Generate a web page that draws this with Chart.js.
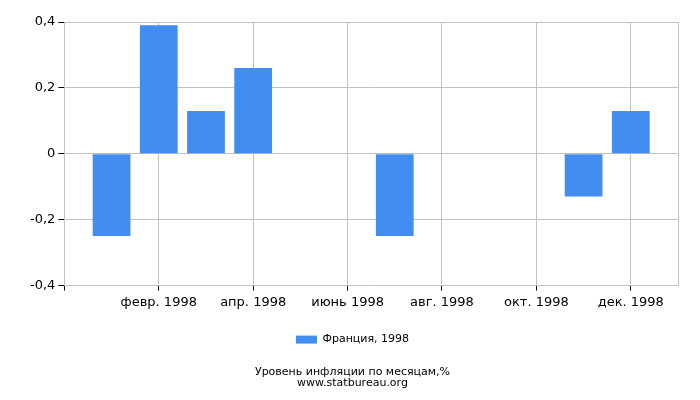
<!DOCTYPE html>
<html><head><meta charset="utf-8">
<script src="https://cdn.jsdelivr.net/npm/chart.js@4"></script>
<style>html,body{margin:0;padding:0;background:#fff}#wrap{width:700px;height:400px}</style>
</head><body><div id="wrap"><canvas id="c"></canvas></div>
<script>
const months = ['янв. 1998','февр. 1998','март 1998','апр. 1998','май 1998','июнь 1998','июль 1998','авг. 1998','сент. 1998','окт. 1998','нояб. 1998','дек. 1998'];
const values = [-0.25, 0.39, 0.13, 0.26, 0, 0, -0.25, 0, 0, 0, -0.13, 0.13];
const seriesName = 'Франция, 1998';
const yTicks = [-0.4, -0.2, 0, 0.2, 0.4];
const titleLines = ['Уровень инфляции по месяцам,%', 'www.statbureau.org'];

const labels = [''].concat(months, ['']);
const data = [null].concat(values, [null]);
const shown = (i) => i >= 2 && i <= 12 && i % 2 === 0;

new Chart(document.getElementById('c'), {
  type: 'bar',
  data: { labels, datasets: [{ label: seriesName, data, backgroundColor: '#428df0', borderWidth: 0, categoryPercentage: 1, barPercentage: 0.8 }] },
  options: {
    responsive: true, maintainAspectRatio: false, animation: false,
    layout: { padding: { top: 22, right: 22, left: 27, bottom: 6 } },
    font: { family: 'DejaVu Sans' },
    scales: {
      x: {
        offset: false,
        grid: {
          offset: false,
          color: (ctx) => (shown(ctx.index) || ctx.index === 13) ? '#c0c0c0' : 'rgba(0,0,0,0)',
          tickColor: (ctx) => (shown(ctx.index) || ctx.index === 0) ? '#000' : 'rgba(0,0,0,0)',
          tickLength: 5, lineWidth: 1
        },
        border: { color: '#c0c0c0' },
        ticks: {
          autoSkip: false, maxRotation: 0, color: '#000', padding: 4,
          font: { family: 'DejaVu Sans', size: 13 },
          callback: (v, i) => shown(i) ? labels[i] : ''
        }
      },
      y: {
        min: -0.4, max: 0.4,
        afterBuildTicks: (s) => { s.ticks = yTicks.map(v => ({ value: v })); },
        grid: { color: '#c0c0c0', tickColor: '#000', tickLength: 6 },
        border: { color: '#c0c0c0' },
        ticks: {
          color: '#000', padding: 3,
          font: { family: 'DejaVu Sans', size: 13 },
          callback: (v) => String(Number(v.toFixed(1))).replace('.', ',')
        }
      }
    },
    plugins: {
      legend: {
        position: 'bottom',
        labels: { boxWidth: 21, boxHeight: 8, color: '#000', font: { family: 'DejaVu Sans', size: 11 }, padding: 20 }
      },
      title: {
        display: true, position: 'bottom', text: titleLines, color: '#000',
        font: { family: 'DejaVu Sans', size: 11, weight: 'normal', lineHeight: 0.95 },
        padding: { top: 12, bottom: 6 }
      },
      tooltip: { enabled: false }
    }
  }
});
</script></body></html>
